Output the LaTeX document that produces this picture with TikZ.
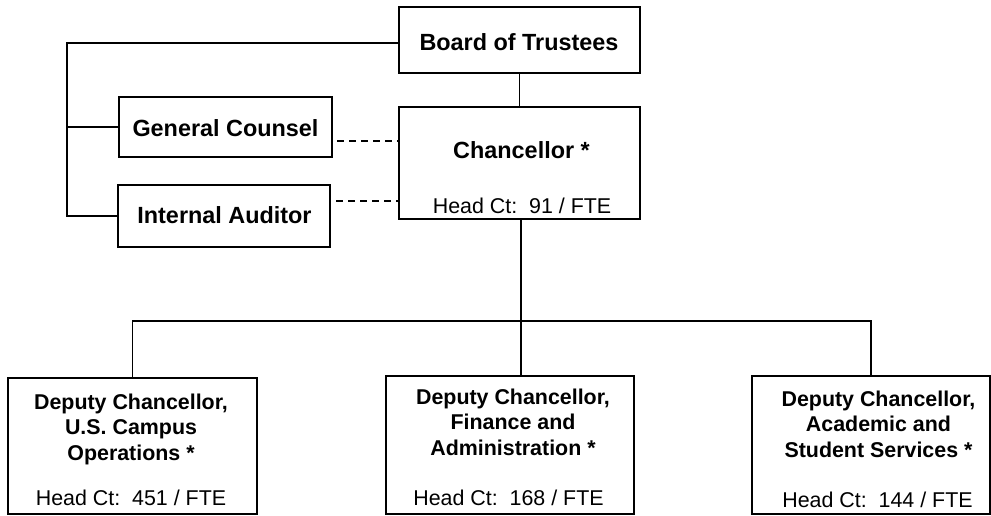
\documentclass[tikz,border=0pt]{standalone}
\usepackage{fontspec}
\setmainfont{Liberation Sans}
\begin{document}
\begin{tikzpicture}[x=1pt,y=-1pt,
  box/.style={draw,line width=1.8pt,inner sep=0pt,outer sep=0pt},
  conn/.style={line width=1.8pt},
  dsh/.style={line width=1.8pt,dash pattern=on 7pt off 5pt},
  big/.style={font=\fontsize{23.4}{28}\selectfont\bfseries,inner sep=0pt,anchor=base},
  dep/.style={font=\fontsize{21.4}{25.5}\selectfont\bfseries,inner sep=0pt,anchor=base,align=center},
  hc/.style={font=\fontsize{21.4}{26}\selectfont,inner sep=0pt,anchor=base}]
\useasboundingbox (0,0) rectangle (991,516);
% boxes
\node[box,minimum width=241pt,minimum height=66pt] (board) at (519.5,40) {};
\node[box,minimum width=241pt,minimum height=112pt] (chan) at (519.5,163) {};
\node[box,minimum width=213pt,minimum height=60pt] (gc) at (225.5,127) {};
\node[box,minimum width=212pt,minimum height=62pt] (ia) at (224,216) {};
\node[box,minimum width=249pt,minimum height=136pt] (left) at (132.5,446) {};
\node[box,minimum width=248pt,minimum height=138pt] (mid) at (510,445) {};
\node[box,minimum width=238pt,minimum height=138pt] (right) at (871,445) {};
% texts
\node[big] (tboard) at (519,51) {Board of Trustees};
\node[big] (tchan) at (521.5,159) {Chancellor *};
\node[hc] (hchan) at (522,213) {Head Ct:\ \ 91 / FTE};
\node[big] (tgc) at (225.5,137) {General Counsel};
\node[big] (tia) at (224.5,223) {Internal Auditor};
\node[dep] (tleft) at (131,460) {Deputy Chancellor,\\U.S. Campus\\Operations *};
\node[hc] (hleft) at (131,505) {Head Ct:\ \ 451 / FTE};
\node[dep] (tmid) at (513,455) {Deputy Chancellor,\\Finance and\\Administration *};
\node[hc] (hmid) at (508.5,505) {Head Ct:\ \ 168 / FTE};
\node[dep] (tright) at (878.5,457) {Deputy Chancellor,\\Academic and\\Student Services *};
\node[hc] (hright) at (877.5,507) {Head Ct:\ \ 144 / FTE};
% connectors
\coordinate (lt) at (67,0);
\coordinate (bus) at (521,321);
\draw[conn] ([yshift=-3pt]board.west) -| (lt |- ia.west) -- (ia.west);
\draw[conn] (gc.west) -- (gc.west -| lt);
\draw[conn] (board.south) -- (chan.north);
\coordinate (d1) at ([xshift=5pt,yshift=-14pt]gc.east);
\draw[dsh] (d1) -- (d1 -| chan.west);
\coordinate (d2) at ([xshift=6pt,yshift=15pt]ia.east);
\draw[dsh] (d2) -- (d2 -| chan.west);
\draw[conn] (chan.south -| bus) -- (bus);
\draw[conn] (left.north) -- (left.north |- bus) -- (right.north |- bus) -- (right.north);
\draw[conn] (bus) -- (bus |- mid.north);
\end{tikzpicture}
\end{document}
